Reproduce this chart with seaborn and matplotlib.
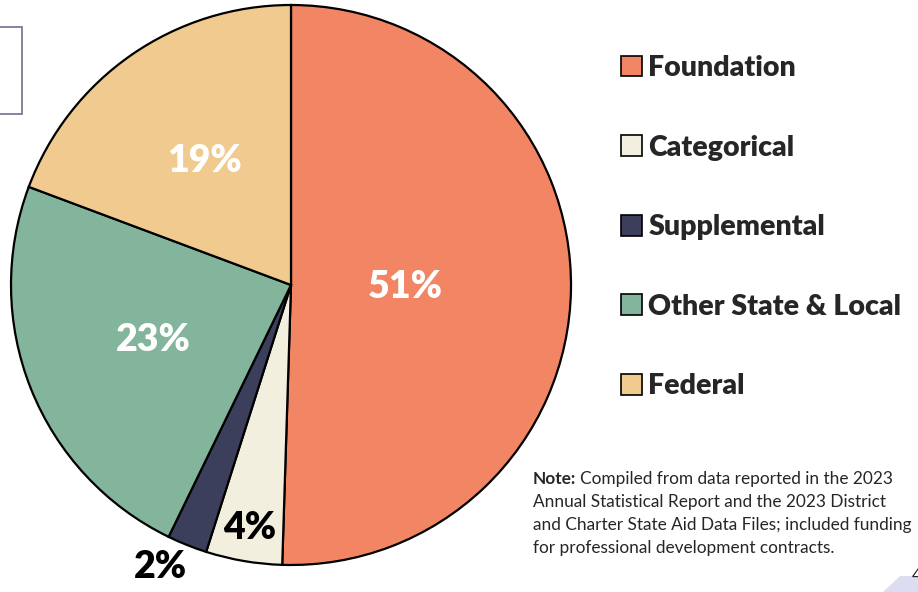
import numpy as np
import matplotlib.pyplot as plt
import matplotlib.patches as mpatches
import seaborn as sns

sns.set_theme(style='white')
plt.rcParams['font.family'] = ['Lato', 'DejaVu Sans']

# data
categories = ['Foundation', 'Categorical', 'Supplemental', 'Other State & Local', 'Federal']
shares = [50.5, 4.4, 2.3, 23.5, 19.3]
pct_labels = ['51%', '4%', '2%', '23%', '19%']
colors = ['#F28564', '#F3EFDF', '#3B3F5C', '#82B59B', '#F0CA8E']
note_lines = ['Compiled from data reported in the 2023',
              'Annual Statistical Report and the 2023 District',
              'and Charter State Aid Data Files; included funding',
              'for professional development contracts.']

W, H = 918, 592
fig = plt.figure(figsize=(W / 100, H / 100), dpi=100)
fig.patch.set_facecolor('white')

# pie axes: centre (291, 285), radius 280 px
cx, cy, r = 291, 285, 280
ax = fig.add_axes([(cx - r) / W, (H - cy - r) / H, 2 * r / W, 2 * r / H])
wedges, _ = ax.pie(shares, colors=colors, startangle=90, counterclock=False,
                   radius=1.0, wedgeprops=dict(edgecolor='black', linewidth=1.6))
ax.set_xlim(-1, 1)
ax.set_ylim(-1, 1)
ax.set_aspect('equal')
ax.axis('off')

# percentage labels (small slice label sits a little further round)
label_r = [0.41, 0.88, 1.11, 0.53, 0.54]
label_shift = [0, 0, -3, 0, 0]
label_c = ['white', 'black', 'black', 'white', 'white']
for w, txt, lr, sh, lc in zip(wedges, pct_labels, label_r, label_shift, label_c):
    mid = np.deg2rad((w.theta1 + w.theta2) / 2 + sh)
    ax.text(lr * np.cos(mid), lr * np.sin(mid), txt, ha='center', va='center',
            fontsize=27, fontweight='heavy', color=lc, clip_on=False)

# legend
handles = [mpatches.Patch(facecolor=c, edgecolor='black', linewidth=1.2, label=l)
           for c, l in zip(colors, categories)]
fig.legend(handles=handles, loc='upper left', bbox_to_anchor=(621 / W, 1 - 55 / H),
           frameon=False, prop=dict(size=20.5, weight='heavy'),
           handlelength=0.75, handleheight=0.75, handletextpad=0.2,
           labelspacing=1.88, borderpad=0, borderaxespad=0)

# note: bold lead-in, then the rest of the first line right after it
y0 = 1 - 471 / H
lead = fig.text(533 / W, y0, 'Note:', fontsize=12.4, fontweight='bold', va='top')
fig.canvas.draw()
bb = lead.get_window_extent()
fig.text((bb.x1 + 4) / W, y0, note_lines[0], fontsize=12.4, va='top')
fig.text(533 / W, y0 - 22.7 / H, '\n'.join(note_lines[1:]), fontsize=12.4,
         va='top', linespacing=1.55)

# slide decorations
fig.patches.append(mpatches.Rectangle((-2 / W, 1 - 114 / H), 24 / W, 87 / H,
                                      transform=fig.transFigure, fill=False,
                                      edgecolor='#6E7090', linewidth=1.2))
fig.patches.append(mpatches.Polygon([(883 / W, 0), (900 / W, 16 / H), (1, 16 / H), (1, 0)],
                                    closed=True, transform=fig.transFigure,
                                    facecolor='#DCDDF3', edgecolor='none'))
fig.text(912 / W, 1 - 576 / H, '4', fontsize=12, va='center', ha='left')

fig.savefig('out.png', dpi=100)
